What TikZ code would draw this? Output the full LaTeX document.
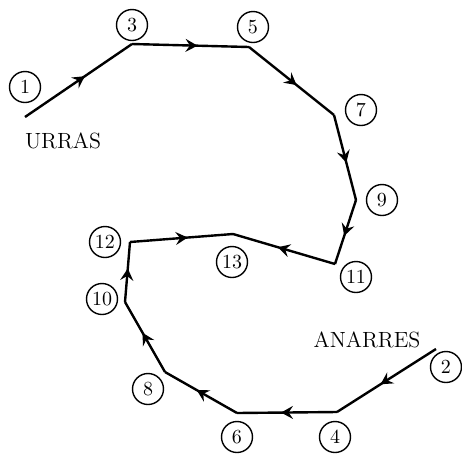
\documentclass[tikz,border=0pt]{standalone}
\usetikzlibrary{arrows.meta,decorations.markings}
\tikzset{
  stopmark/.style={circle, draw, line width=0.7pt, inner sep=0pt,
                   minimum size=15.5pt, font=\fontsize{10}{10}\selectfont},
  worldlabel/.style={font=\fontsize{11}{12}\selectfont, inner sep=0pt},
  leg/.style={line width=1.2pt, postaction={decorate},
              decoration={markings, mark=at position 0.56 with
                {\arrow{Stealth[length=6pt,width=6.5pt,inset=2.2pt]}}}},
}
\begin{document}
\begin{tikzpicture}[x=0.5pt, y=-0.5pt, line join=round]
  \useasboundingbox (0,0) rectangle (462,457);
  % route from Urras
  \coordinate (u1)  at (25,117);
  \coordinate (u3)  at (132,44);
  \coordinate (u5)  at (249,47);
  \coordinate (u7)  at (334,115);
  \coordinate (u9)  at (356,200);
  \coordinate (u11) at (335,264);
  % meeting point
  \coordinate (m)   at (233,234);
  % route from Anarres
  \coordinate (a2)  at (436,349);
  \coordinate (a4)  at (337,412);
  \coordinate (a6)  at (237,413);
  \coordinate (a8)  at (165,372);
  \coordinate (a10) at (125,302);
  \coordinate (a12) at (130,242);

  \node[stopmark] (c1)  at (25,87)   {1};
  \node[stopmark] (c3)  at (132,25)  {3};
  \node[stopmark] (c5)  at (253,27)  {5};
  \node[stopmark] (c7)  at (361,110) {7};
  \node[stopmark] (c9)  at (382,200) {9};
  \node[stopmark] (c11) at (356,277) {11};
  \node[stopmark] (c13) at (232,262) {13};
  \node[stopmark] (c12) at (105,242) {12};
  \node[stopmark] (c10) at (102,299) {10};
  \node[stopmark] (c8)  at (148,389) {8};
  \node[stopmark] (c6)  at (237,437) {6};
  \node[stopmark] (c4)  at (335,437) {4};
  \node[stopmark] (c2)  at (446,367) {2};

  \node[worldlabel] (urras)   at (63,141)  {URRAS};
  \node[worldlabel] (anarres) at (367,340) {ANARRES};

  \draw[leg] (u1) -- (u3);
  \draw[leg] (u3) -- (u5);
  \draw[leg] (u5) -- (u7);
  \draw[leg] (u7) -- (u9);
  \draw[leg] (u9) -- (u11);
  \draw[leg] (u11) -- (m);
  \draw[leg] (a2) -- (a4);
  \draw[leg] (a4) -- (a6);
  \draw[leg] (a6) -- (a8);
  \draw[leg] (a8) -- (a10);
  \draw[leg] (a10) -- (a12);
  \draw[leg] (a12) -- (m);
\end{tikzpicture}
\end{document}
